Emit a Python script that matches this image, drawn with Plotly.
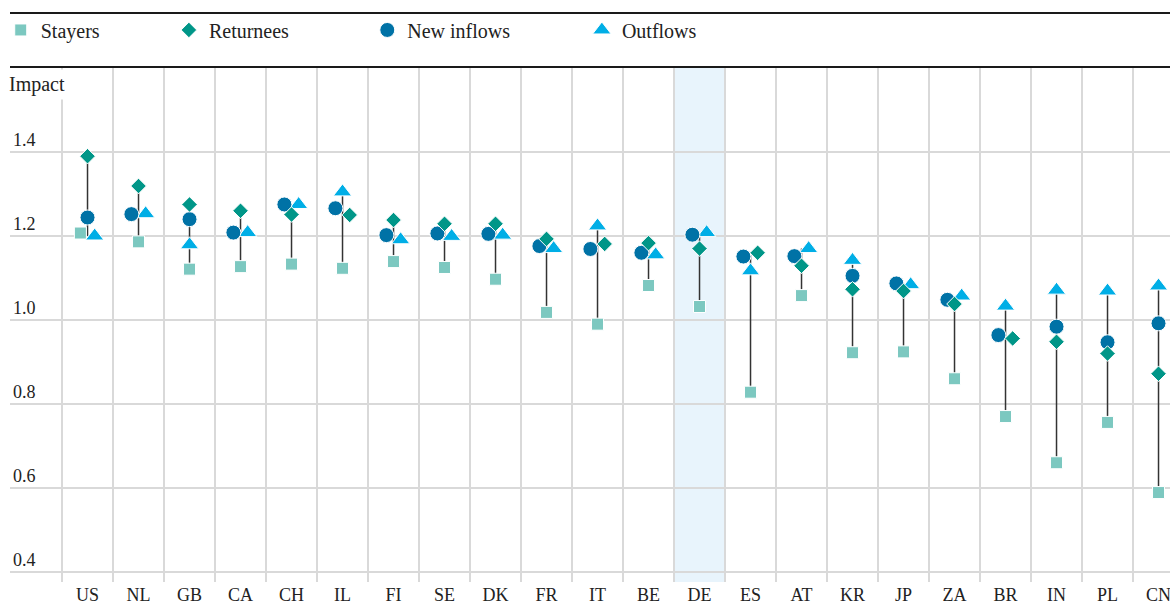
import plotly.graph_objects as go

countries = ["US", "NL", "GB", "CA", "CH", "IL", "FI", "SE", "DK", "FR", "IT",
             "BE", "DE", "ES", "AT", "KR", "JP", "ZA", "BR", "IN", "PL", "CN"]
stayers = [1.207, 1.186, 1.121, 1.127, 1.133, 1.123, 1.139, 1.125, 1.097, 1.018, 0.990,
           1.082, 1.032, 0.828, 1.058, 0.922, 0.924, 0.860, 0.770, 0.660, 0.756, 0.589]
returnees = [1.390, 1.319, 1.275, 1.260, 1.251, 1.250, 1.238, 1.229, 1.229, 1.193, 1.181,
             1.183, 1.170, 1.160, 1.129, 1.073, 1.069, 1.038, 0.956, 0.948, 0.920, 0.872]
new_inflows = [1.244, 1.252, 1.240, 1.208, 1.275, 1.266, 1.202, 1.206, 1.205, 1.176, 1.169,
               1.160, 1.203, 1.151, 1.152, 1.105, 1.087, 1.048, 0.964, 0.984, 0.947, 0.992]
outflows = [1.200, 1.253, 1.179, 1.208, 1.275, 1.305, 1.191, 1.199, 1.202, 1.170, 1.224,
            1.155, 1.208, 1.117, 1.170, 1.142, 1.084, 1.057, 1.033, 1.071, 1.069, 1.081]
y_ticks = [0.4, 0.6, 0.8, 1.0, 1.2, 1.4]
highlight = "DE"

FONT = "Liberation Serif"
TXT = "#222222"
series = {
    "Stayers": dict(vals=stayers, color="#7cc8c0", symbol="square", size=12),
    "Returnees": dict(vals=returnees, color="#009688", symbol="diamond", size=12),
    "New inflows": dict(vals=new_inflows, color="#0072a6", symbol="circle", size=15),
    "Outflows": dict(vals=outflows, color="#00aee6", symbol="triangle-up", size=16),
}
# which marker goes left when two overlap
left_pref = ["New inflows", "Stayers", "Returnees", "Outflows"]
CLOSE = 0.025
SHIFT = 0.14

n = len(countries)
offsets = {name: [0.0] * n for name in series}
for i in range(n):
    pairs = []
    names = list(series)
    for a in range(len(names)):
        for b in range(a + 1, len(names)):
            d = abs(series[names[a]]["vals"][i] - series[names[b]]["vals"][i])
            if d < CLOSE:
                pairs.append((d, names[a], names[b]))
    pairs.sort()
    used = set()
    for d, a, b in pairs:
        if a in used or b in used:
            continue
        first, second = sorted([a, b], key=left_pref.index)
        offsets[first][i] = -SHIFT
        offsets[second][i] = SHIFT
        used.update([a, b])

fig = go.Figure()

# connector from lowest to highest value
lx, ly = [], []
for i in range(n):
    vals = [s["vals"][i] for s in series.values()]
    lx += [i, i, None]
    ly += [min(vals), max(vals), None]
fig.add_trace(go.Scatter(x=lx, y=ly, mode="lines", line=dict(color="#333333", width=1.5),
                         showlegend=False, hoverinfo="skip"))

legend_x = {"Stayers": -0.008, "Returnees": 0.137, "New inflows": 0.308, "Outflows": 0.493}
legend_ids = {"Stayers": "legend", "Returnees": "legend2", "New inflows": "legend3", "Outflows": "legend4"}

for name in ["Outflows", "New inflows", "Returnees", "Stayers"]:
    s = series[name]
    fig.add_trace(go.Scatter(
        x=[i + offsets[name][i] for i in range(n)], y=s["vals"], mode="markers", name=name,
        marker=dict(symbol=s["symbol"], size=s["size"], color=s["color"],
                    line=dict(color="white", width=1)),
        legend=legend_ids[name], customdata=countries,
        hovertemplate="%{customdata}: %{y:.2f}<extra>" + name + "</extra>"))

hi = countries.index(highlight)
fig.add_vrect(x0=hi - 0.5, x1=hi + 0.5, fillcolor="#e8f4fc", line_width=0, layer="below")

for yp in [1.002, 1.107]:
    fig.add_shape(type="line", xref="paper", yref="paper", x0=0, x1=1, y0=yp, y1=yp,
                  line=dict(color="#1a1a1a", width=2))

fig.add_annotation(text="Impact", xref="paper", yref="paper", x=-0.004, y=0.967,
                   xanchor="left", yanchor="middle", showarrow=False, bgcolor="white",
                   borderpad=3, font=dict(family=FONT, size=20, color=TXT))

leg_common = dict(orientation="h", xanchor="left", yanchor="middle", y=1.074,
                  bgcolor="rgba(0,0,0,0)", font=dict(family=FONT, size=20, color=TXT))
legends = {lid: dict(leg_common, x=legend_x[name]) for name, lid in legend_ids.items()}

fig.update_layout(
    width=1170, height=604,
    margin=dict(l=10, r=0, t=68, b=22),
    paper_bgcolor="white", plot_bgcolor="white",
    showlegend=True,
    font=dict(family=FONT, color=TXT),
    xaxis=dict(range=[-1.52, 21.225], tickmode="array", tickvals=list(range(n)), ticktext=countries,
               showgrid=False, zeroline=False, showline=False, ticks="", automargin=False,
               ticklabeloverflow="allow",
               tickfont=dict(family=FONT, size=18, color=TXT),
               minor=dict(tickmode="array", tickvals=[i - 0.5 for i in range(n + 1)],
                          showgrid=True, gridcolor="#d9d9d9", gridwidth=1.5, ticks="")),
    yaxis=dict(range=[0.376, 1.6], tickmode="array", tickvals=y_ticks, tickformat=".1f",
               ticklabelposition="inside top", showgrid=True, gridcolor="#d9d9d9", gridwidth=1.5,
               zeroline=False, showline=False, ticks="", automargin=False,
               tickfont=dict(family=FONT, size=18, color=TXT)),
    **legends,
)

# the page's default body margin would push the chart off the window
fig.write_html("out.html", config={"displayModeBar": False},
               post_script="document.body.style.margin = '0';")
